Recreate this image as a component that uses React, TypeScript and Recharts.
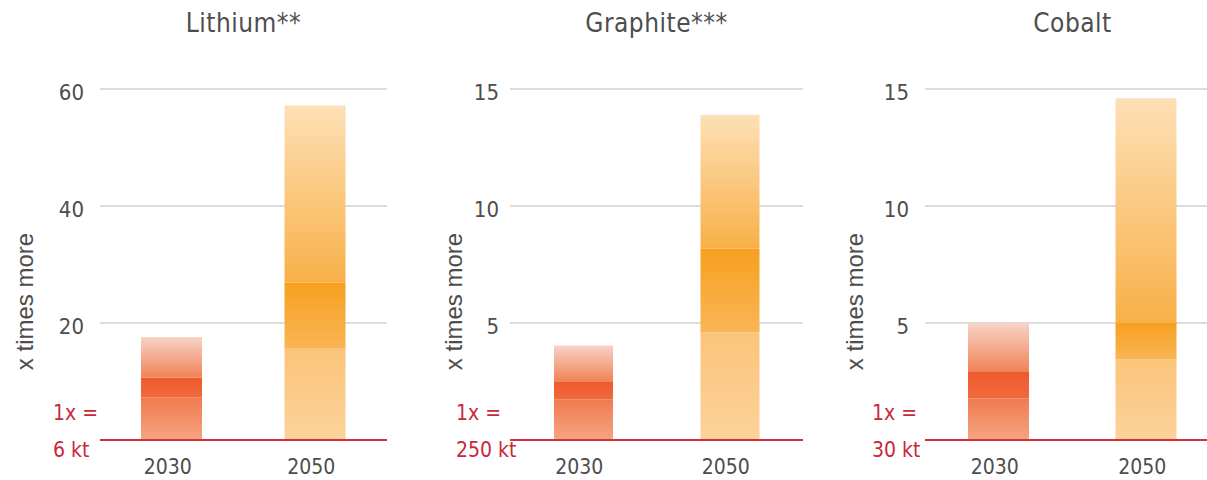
import React from 'react';
import { BarChart, Bar, XAxis, YAxis, CartesianGrid, ReferenceLine, Cell } from 'recharts';

// ---- data ----
const categories = ['2030', '2050'];
const titles = ['Lithium**', 'Graphite***', 'Cobalt'];
const baseUnits = ['6 kt', '250 kt', '30 kt'];

const lithiumLow = [7.3, 15.6];
const lithiumMid = [10.7, 26.9];
const lithiumHigh = [17.6, 57.2];

const graphiteLow = [1.74, 4.61];
const graphiteMid = [2.51, 8.18];
const graphiteHigh = [4.04, 13.9];

const cobaltLow = [1.77, 3.45];
const cobaltMid = [2.91, 5.0];
const cobaltHigh = [5.0, 14.6];

const lithiumTicks = [0, 20, 40, 60];
const graphiteTicks = [0, 5, 10, 15];
const cobaltTicks = [0, 5, 10, 15];

// ---- styles ----
const FONT = "'Liberation Sans Narrow', 'DejaVu Sans Condensed', 'Liberation Sans', sans-serif";
const LABEL_FONT = "'Liberation Sans', Arial, sans-serif";
const GRAY = '#4d4d4d';
const RED = '#c8283a';
const LINE_RED = '#d2303f';
const GRID = '#dcdcdc';

const palettes = [
  {
    a: ['#f07a50', '#f5a582'],
    b: ['#ee5a2c', '#f06a3d'],
    c: ['#f7d3c6', '#f08358'],
  },
  {
    a: ['#fbc47a', '#fcd29a'],
    b: ['#f7a021', '#f9b555'],
    c: ['#fde0b6', '#f8b048'],
  },
];

const buildRows = (low: number[], mid: number[], high: number[]) =>
  categories.map((year, i) => ({
    year,
    a: low[i],
    b: mid[i] - low[i],
    c: high[i] - mid[i],
  }));

const panels = [
  {
    id: 'li', title: titles[0], unit: baseUnits[0], ticks: lithiumTicks,
    rows: buildRows(lithiumLow, lithiumMid, lithiumHigh),
    left: 0, width: 400, yAxisWidth: 100, marginRight: 13, tickMargin: 16, redDx: -31, labelX: 33, barSize: 61,
  },
  {
    id: 'gr', title: titles[1], unit: baseUnits[1], ticks: graphiteTicks,
    rows: buildRows(graphiteLow, graphiteMid, graphiteHigh),
    left: 400, width: 410, yAxisWidth: 110, marginRight: 7, tickMargin: 11, redDx: -43, labelX: 62, barSize: 59,
  },
  {
    id: 'co', title: titles[2], unit: baseUnits[2], ticks: cobaltTicks,
    rows: buildRows(cobaltLow, cobaltMid, cobaltHigh),
    left: 820, width: 400, yAxisWidth: 105, marginRight: 0, tickMargin: 16, redDx: -37, labelX: 43, barSize: 61,
  },
];

const MARGIN_TOP = 89;
const X_AXIS_H = 30;
const MARGIN_BOTTOM = 10;
const CHART_H = 480;

const makeYTick = (redDx: number, unit: string) => (props: any) => {
  const { x, y, payload } = props;
  if (payload.value === 0) {
    return (
      <g>
        <text x={x + redDx} y={y - 20} fill={RED} fontSize={21} fontFamily={FONT}>1x =</text>
        <text x={x + redDx} y={y + 17} fill={RED} fontSize={21} fontFamily={FONT}>{unit}</text>
      </g>
    );
  }
  return (
    <text x={x} y={y} dy={11} textAnchor="end" fill={GRAY} fontSize={22} fontFamily={FONT}>
      {payload.value}
    </text>
  );
};

const XTick = (props: any) => {
  const { x, y, payload } = props;
  return (
    <text x={x - 4} y={y + 34} textAnchor="middle" fill={GRAY} fontSize={21} fontFamily={FONT}>
      {payload.value}
    </text>
  );
};

const makeYLabel = (labelX: number) => (props: any) => {
  const vb = props.viewBox || { x: 0, y: MARGIN_TOP, width: 0, height: 351 };
  const cx = vb.x + labelX;
  const cy = vb.y + vb.height / 2 + 37;
  return (
    <text
      x={cx}
      y={cy}
      transform={`rotate(-90, ${cx}, ${cy})`}
      textAnchor="middle"
      fill={GRAY}
      fontSize={24}
      fontFamily={LABEL_FONT}
    >
      x times more
    </text>
  );
};

const Panel = ({ p }: { p: any }) => {
  const grad = (seg: 'a' | 'b' | 'c', i: number) => `url(#${p.id}-${seg}-${i})`;
  return (
    <div style={{ position: 'absolute', left: p.left, top: 0 }}>
      <BarChart
        width={p.width}
        height={CHART_H}
        data={p.rows}
        margin={{ top: MARGIN_TOP, right: p.marginRight, bottom: MARGIN_BOTTOM, left: 0 }}
        barCategoryGap={0}
      >
        <defs>
          {palettes.map((pal, i) =>
            (['a', 'b', 'c'] as const).map((seg) => (
              <linearGradient key={`${seg}${i}`} id={`${p.id}-${seg}-${i}`} x1="0" y1="0" x2="0" y2="1">
                <stop offset="0%" stopColor={pal[seg][0]} />
                <stop offset="100%" stopColor={pal[seg][1]} />
              </linearGradient>
            ))
          )}
        </defs>
        <CartesianGrid vertical={false} stroke={GRID} strokeWidth={2} />
        <XAxis
          dataKey="year"
          height={X_AXIS_H}
          axisLine={false}
          tickLine={false}
          tickSize={0}
          tickMargin={0}
          tick={<XTick />}
        />
        <YAxis
          width={p.yAxisWidth}
          domain={[0, p.ticks[p.ticks.length - 1]]}
          ticks={p.ticks}
          axisLine={false}
          tickLine={false}
          tickSize={0}
          tickMargin={p.tickMargin}
          tick={makeYTick(p.redDx, p.unit)}
          label={{ content: makeYLabel(p.labelX) }}
          interval={0}
        />
        <ReferenceLine y={0} stroke={LINE_RED} strokeWidth={2} />
        <Bar dataKey="a" stackId="s" barSize={p.barSize} isAnimationActive={false}>
          {p.rows.map((_: any, i: number) => (
            <Cell key={i} fill={grad('a', i)} />
          ))}
        </Bar>
        <Bar dataKey="b" stackId="s" barSize={p.barSize} isAnimationActive={false}>
          {p.rows.map((_: any, i: number) => (
            <Cell key={i} fill={grad('b', i)} />
          ))}
        </Bar>
        <Bar dataKey="c" stackId="s" barSize={p.barSize} isAnimationActive={false}>
          {p.rows.map((_: any, i: number) => (
            <Cell key={i} fill={grad('c', i)} />
          ))}
        </Bar>
      </BarChart>
    </div>
  );
};

export default function App() {
  return (
    <div
      style={{
        position: 'absolute',
        left: 0,
        top: 0,
        width: 1207,
        height: 480,
        overflow: 'hidden',
        background: '#ffffff',
      }}
    >
      {panels.map((p) => (
        <Panel key={p.id} p={p} />
      ))}
      <svg width={1207} height={50} style={{ position: 'absolute', left: 0, top: 0 }}>
        {panels.map((p) => {
          const plotLeft = p.left + p.yAxisWidth;
          const plotRight = p.left + p.width - p.marginRight;
          return (
            <text
              key={p.id}
              x={(plotLeft + plotRight) / 2}
              y={32}
              textAnchor="middle"
              fill={GRAY}
              fontSize={26}
              letterSpacing={0.5}
              fontFamily={FONT}
            >
              {p.title}
            </text>
          );
        })}
      </svg>
    </div>
  );
}
